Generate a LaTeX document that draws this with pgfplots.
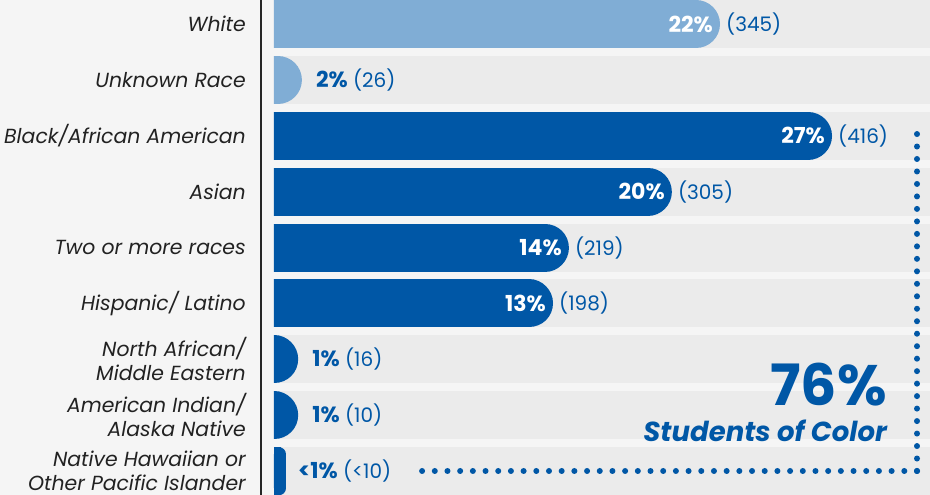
\documentclass[border=0pt]{standalone}
\usepackage{fontspec}
\setmainfont{Poppins}
\usepackage{pgfplots}
\pgfplotsset{compat=1.18}
\usepackage{pgfplotstable}

\definecolor{dblue}{HTML}{0057A6}
\definecolor{lblue}{HTML}{80ADD5}
\definecolor{bgbar}{HTML}{EBEBEB}
\definecolor{bgall}{HTML}{F5F5F5}
\definecolor{labgray}{HTML}{222222}

% len = drawn bar length (percent scale), pct / cnt = printed values
\pgfplotstableread{
row len pct cnt
0 21.58 22 345
1 1.35 2 26
2 27.00 27 416
3 19.25 20 305
4 14.27 14 219
5 13.50 13 198
6 1.17 1 16
7 1.17 1 10
8 0.58 1 10
}\racedata

\begin{document}
\begin{tikzpicture}[x=1pt,y=1pt]
\useasboundingbox (0,0) rectangle (930,495);
\fill[bgall] (0,0) rectangle (930,495);
\begin{axis}[
  at={(274pt,0pt)}, anchor=south west,
  scale only axis, width=656pt, height=495pt,
  xmin=0, xmax=31.74,
  ymin=-0.4293, ymax=8.4258, y dir=reverse,
  axis line style={draw=none},
  major tick length=0pt,
  xtick=\empty,
  ytick={0,...,8},
  yticklabels={White, Unknown Race, Black/African American, Asian, Two or more races, Hispanic/ Latino, {North African/\\Middle Eastern}, {American Indian/\\Alaska Native}, {Native Hawaiian or\\Other Pacific Islander}},
  yticklabel style={anchor=east, inner sep=0pt, xshift=-28pt, align=right,
    font=\fontsize{20.4}{24}\selectfont\itshape, text=labgray},
  /pgf/number format/assume math mode=true,
]
% grey track behind every bar
\addplot[xcomb, draw=bgbar, line width=48pt, line cap=butt] table[x expr=40, y=row] {\racedata};
% light bars
\addplot[xcomb, draw=lblue, line width=48pt, line cap=round,
  skip coords between index={2}{9}] table[x expr=\thisrow{len}-1.161, y=row] {\racedata};
% dark bars
\addplot[xcomb, draw=dblue, line width=48pt, line cap=round,
  skip coords between index={0}{2}, skip coords between index={8}{9}] table[x expr=\thisrow{len}-1.161, y=row] {\racedata};
% smallest bar
\addplot[xbar, bar width=48pt, fill=dblue, draw=none, rounded corners=7pt,
  skip coords between index={0}{8}] table[x=len, y=row] {\racedata};
\addplot[xbar, bar width=48pt, fill=dblue, draw=none,
  skip coords between index={0}{8}] table[x expr=\thisrow{len}/2, y=row] {\racedata};
% labels inside long bars
\addplot[draw=none, point meta=\thisrow{pct},
  skip coords between index={1}{2}, skip coords between index={6}{9},
  nodes near coords={\pgfmathprintnumber{\pgfplotspointmeta}\%},
  every node near coord/.style={anchor=east, xshift=-7pt, inner sep=0pt, text=white,
    font=\fontsize{22}{22}\selectfont\bfseries}] table[x=len, y=row] {\racedata};
\addplot[draw=none, point meta=\thisrow{cnt},
  skip coords between index={1}{2}, skip coords between index={6}{9},
  nodes near coords={(\pgfmathprintnumber{\pgfplotspointmeta})},
  every node near coord/.style={anchor=west, xshift=6pt, inner sep=0pt, text=dblue,
    font=\fontsize{20}{20}\selectfont}] table[x=len, y=row] {\racedata};
% labels beside short bars
\addplot[draw=none, point meta=\thisrow{pct},
  visualization depends on={\thisrow{cnt}\as\cnt},
  skip coords between index={0}{1}, skip coords between index={2}{6}, skip coords between index={8}{9},
  nodes near coords={{\fontsize{22}{22}\selectfont\bfseries\pgfmathprintnumber{\pgfplotspointmeta}\%} (\pgfmathprintnumber{\cnt})},
  every node near coord/.style={anchor=west, xshift=14pt, inner sep=0pt, text=dblue,
    font=\fontsize{20}{20}\selectfont}] table[x=len, y=row] {\racedata};
\addplot[draw=none, skip coords between index={0}{8},
  nodes near coords={{\fontsize{22}{22}\selectfont\bfseries <1\%} (<10)},
  every node near coord/.style={anchor=west, xshift=12pt, inner sep=0pt, text=dblue,
    font=\fontsize{20}{20}\selectfont}] table[x=len, y=row] {\racedata};
\end{axis}
% separator line
\draw[line width=1.1pt, black!85] (261,0) -- (261,495);
% bracket of dots
\draw[dblue, line width=6pt, line cap=round, dash pattern=on 0pt off 12.69pt] (917,24) -- (422,24);
\draw[dblue, line width=6pt, line cap=round, dash pattern=on 0pt off 12.48pt] (917,24) -- (917,361);
\node[anchor=base east, inner sep=0pt, text=dblue, font=\fontsize{57}{57}\selectfont\bfseries] at (887,89) {76\%};
\node[anchor=base east, inner sep=0pt, text=dblue, font=\fontsize{27.5}{27.5}\selectfont\bfseries\itshape] at (887,53) {Students of Color};
\end{tikzpicture}
\end{document}
